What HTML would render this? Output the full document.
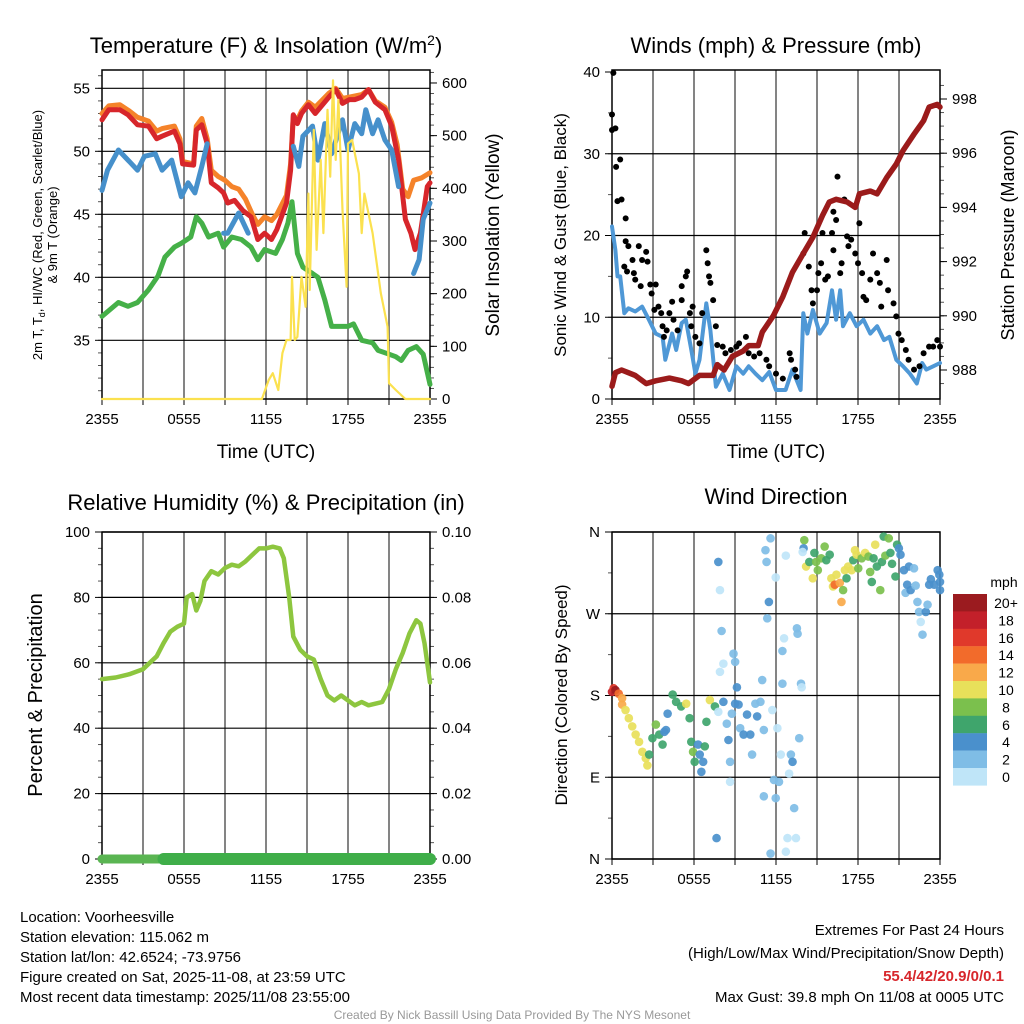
<!DOCTYPE html>
<html><head><meta charset="utf-8">
<style>
html,body{margin:0;padding:0;background:#fff}
svg{display:block;font-family:"Liberation Sans",Arial,sans-serif}
</style></head>
<body>
<svg id="c" width="1024" height="1024" viewBox="0 0 1024 1024" xmlns="http://www.w3.org/2000/svg">
<g id="bg"><rect width="1024" height="1024" fill="#fff"/></g>
<text x="266" y="53" text-anchor="middle" font-size="22">Temperature (F) &amp; Insolation (W/m<tspan dy="-8" font-size="14">2</tspan><tspan dy="8">)</tspan></text>
<text x="776" y="53" text-anchor="middle" font-size="22">Winds (mph) &amp; Pressure (mb)</text>
<text x="266" y="510" text-anchor="middle" font-size="22">Relative Humidity (%) &amp; Precipitation (in)</text>
<text x="776" y="504" text-anchor="middle" font-size="22">Wind Direction</text>

<text x="266" y="458" text-anchor="middle" font-size="19">Time (UTC)</text>
<text x="776" y="458" text-anchor="middle" font-size="19">Time (UTC)</text>
<text transform="translate(42,235) rotate(-90)" text-anchor="middle" font-size="13">2m T, T<tspan dy="3" font-size="9">d</tspan><tspan dy="-3">, HI/WC (Red, Green, Scarlet/Blue)</tspan></text>
<text transform="translate(57,235) rotate(-90)" text-anchor="middle" font-size="13">&amp; 9m T (Orange)</text>
<text transform="translate(499,235) rotate(-90)" text-anchor="middle" font-size="19">Solar Insolation (Yellow)</text>
<text transform="translate(566,235) rotate(-90)" text-anchor="middle" font-size="17">Sonic Wind &amp; Gust (Blue, Black)</text>
<text transform="translate(1014,235) rotate(-90)" text-anchor="middle" font-size="18">Station Pressure (Maroon)</text>
<text transform="translate(42,695) rotate(-90)" text-anchor="middle" font-size="20">Percent &amp; Precipitation</text>
<text transform="translate(567,695) rotate(-90)" text-anchor="middle" font-size="17">Direction (Colored By Speed)</text>

<g font-size="15">
<text x="20" y="922">Location: Voorheesville</text>
<text x="20" y="942">Station elevation: 115.062 m</text>
<text x="20" y="962">Station lat/lon: 42.6524; -73.9756</text>
<text x="20" y="982">Figure created on Sat, 2025-11-08, at 23:59 UTC</text>
<text x="20" y="1002">Most recent data timestamp: 2025/11/08 23:55:00</text>
</g>
<g font-size="15" text-anchor="end">
<text x="1004" y="935">Extremes For Past 24 Hours</text>
<text x="1004" y="958">(High/Low/Max Wind/Precipitation/Snow Depth)</text>
<text x="1004" y="981" fill="#d7262b" font-weight="bold">55.4/42/20.9/0/0.1</text>
<text x="1004" y="1002">Max Gust: 39.8 mph On 11/08 at 0005 UTC</text>
</g>
<text x="512" y="1019" text-anchor="middle" font-size="12" fill="#999">Created By Nick Bassill Using Data Provided By The NYS Mesonet</text>
</svg>
<script>
// ---- data (time in hours after 2355 UTC) ----
const xTickLabels=["2355","0555","1155","1755","2355"];
const tempTicks=[35,40,45,50,55];
const solarTicks=[0,100,200,300,400,500,600];
const windTicks=[0,10,20,30,40];
const presTicks=[988,990,992,994,996,998];
const rhTicks=[0,20,40,60,80,100];
const precipTicks=["0.00","0.02","0.04","0.06","0.08","0.10"];
const dirTicks=["N","E","S","W","N"];

const redT=[0,0.5,1.3,1.9,2.6,3.4,4,4.4,5.3,5.7,5.9,6.7,6.9,7.3,7.7,8,8.5,8.9,9.2,9.7,10.3,10.9,11.4,11.9,12.4,12.8,13.5,13.8,14,14.3,14.6,15.1,15.6,16.6,17.1,17.6,18.1,18.5,19,19.5,20,20.7,21.2,21.7,22.2,22.6,22.9,23.3,23.8,24];
const redV=[52.5,53.3,53.3,52.9,52.1,52,51,51.2,51.6,50.6,49,48.9,51.7,52.1,50.6,47.5,47.1,46.7,45.9,46.1,45.3,44.8,43,43.5,43,43.8,45.9,48.5,52.9,52.2,53,53.7,53,54.3,54.9,53.8,54.1,54.1,54.3,54.9,53.9,53.3,52,49.3,44.6,43.5,42.2,43.5,47.2,47.5];
const orangeT=[0,0.5,1.3,2,2.6,3.4,4,4.4,5.3,5.7,5.9,6.7,6.9,7.3,7.7,8,8.5,9,9.5,10,10.5,11,11.4,11.9,12.4,12.8,13.5,13.8,14,14.3,14.6,15.1,15.6,16.6,17.1,17.6,18.1,19,19.5,20,20.7,21.2,21.6,22,22.4,22.8,23.4,24];
const orangeV=[53,53.6,53.7,53.2,52.7,52.4,51.6,51.8,52,51,49.2,49,52,52.6,51,48.5,48,47.7,47.2,47,46.2,45,44.2,44.8,44.5,45,46.5,49,52.8,52.5,53.2,53.9,53.5,54.6,55,54.2,54.3,54.5,54.9,54,53.5,52.3,50.5,47,46.4,47.7,47.9,48.3];
const blueT=[0,0.4,1.2,1.9,2.6,3.1,3.9,4.4,5.1,5.8,6.3,6.8,7.3,7.7,7.9,8.2,8.4,8.9,9.2,10,10.7,11,14,14.4,14.7,15.4,15.8,16.3,16.8,17.6,18,18.5,19,19.3,19.8,20.2,20.7,21.2,21.7,22,22.8,23.2,23.5,24];
const blueV=[46.9,48.5,50.1,49.3,48.5,49.6,49.8,48.5,49.3,46.4,47.5,46.7,48.8,50.6,null,45.9,null,43.5,43.5,45.1,43.5,null,50.4,48.8,51.2,52,49.3,52.2,49.8,52.5,50.1,52.2,51.4,53.3,51.4,52.5,50.9,50.1,47.2,null,40.3,41.4,44.6,45.9];
const greenT=[0,1.2,1.9,2.6,3.4,4.1,4.6,5.3,5.8,6.5,6.9,7.3,7.8,8.5,8.9,9.5,10.2,10.9,11.4,11.9,12.7,13.2,13.6,13.9,14.3,14.7,15.4,15.8,16.3,16.8,17.3,18,18.4,19,19.8,20.2,21,21.5,21.9,22.4,23,23.5,24];
const greenV=[36.9,38,37.7,38,39,40.1,41.6,42.4,42.7,43.2,44.8,44.3,43.2,43.5,42.4,43.2,43,42.4,41.4,42.2,41.9,43,44.3,46,41.9,40.8,40.3,40,38.2,36.1,36.1,36.1,36.3,35,34.8,34.2,33.9,33.7,33.4,34.2,34.5,33.9,31.5];
const solarT=[0,11.7,12.2,12.5,12.9,13.2,13.5,13.8,13.9,14.1,14.3,14.6,14.9,15.1,15.2,15.5,15.7,16,16.2,16.5,16.7,16.9,17.1,17.3,17.6,17.9,18,18.3,18.8,19,19.2,19.8,20.4,20.9,21,21.5,22.2,24];
const solarV=[0,0,36,49,17,87,112,112,232,112,118,232,175,390,207,511,283,454,315,549,422,605,454,568,359,213,485,492,428,315,390,315,201,137,30,17,0,0];

const presT=[0,0.25,0.7,1.2,1.7,2.5,3.2,4.2,5.1,5.6,6.4,7.4,7.7,8.2,8.8,9.6,10,10.7,11,11.8,12.5,13.2,14,14.7,15.4,15.9,16.4,17.2,17.8,18.1,18.9,19.4,20.1,20.8,21.3,22.1,22.8,23.2,23.8,24];
const presV=[987.4,987.9,988,987.9,987.8,987.5,987.6,987.7,987.6,987.5,987.8,987.8,988.2,988,988.5,988.7,988.9,988.9,989.4,990,990.7,991.6,992.3,992.9,993.7,994.2,994.3,994.2,994,994.5,994.6,994.5,995.1,995.6,996.1,996.7,997.2,997.7,997.8,997.7];
const windT=[0,0.25,0.4,0.6,0.9,1.2,1.7,2.2,2.7,3.2,3.7,3.9,4.4,4.7,5.1,5.4,5.8,6.1,6.4,6.9,7.2,7.6,8.1,8.6,9.1,9.6,10,10.5,11,11.5,12,12.7,13.2,13.8,14,14.3,14.7,15.2,15.7,16.1,16.4,16.7,16.9,17.4,17.9,18.4,18.9,19.4,19.9,20.3,20.8,21.3,21.8,22.3,22.7,23,23.5,24];
const windV=[21.1,18.2,15,15,10.5,11.1,10.7,11.3,9.7,8,7.6,4.8,8,6,9.3,9.7,6,3.1,4.8,11.7,8.4,1.5,3.1,1.1,4,3.1,4,3.1,2.3,3.3,1.1,1.1,3.6,1.1,10.5,8,10.9,8,9.3,13.3,9.7,13.3,8.9,10.5,8.9,9.7,8,8.9,7.2,7.6,4.8,4,3.1,1.9,4.4,3.6,4,4.4];
const gustT=[0.1,0,0,0.25,0.3,0.6,0.4,0.7,1,1,1.2,0.9,1.1,1.5,1.6,1.7,1.96,2.2,2.5,2.6,2.1,2.8,3.2,2.9,3.1,3.4,3.6,3.7,3.8,4,4.2,4.4,4.5,4.8,5.1,5.1,5.4,5.5,5.7,5.9,5.8,6.1,6.4,6.6,6.9,7,7.1,7.2,7.4,7.6,7.7,8.1,8.3,8.7,9.1,9.3,9.8,10,10.4,10.8,11.3,11.5,12,12.5,13,13.1,13.4,13.5,14,14.1,14.4,14.6,14.7,15,15.1,15.3,15.4,15.6,15.8,16.1,16.2,16.2,16.4,16.5,16.7,16.8,17,17.2,17.3,17.5,17.8,18,18.1,18.3,18.4,18.6,18.9,19.1,19.4,19.6,19.7,20.1,20.2,20.6,20.8,20.96,21.2,21.5,21.7,22.1,22.5,22.8,23.2,23.5,23.8,24];
const gustV=[39.9,34.8,32.9,33.1,28.4,29.3,24.2,24.4,22.1,19.3,18.7,16.2,15.6,17,15.4,14.6,18.7,17,18,16.8,13.8,14,14,12.9,10.9,11.3,10.5,8.9,7.6,8.4,10.5,11.9,9.7,8.4,12.1,13.8,15,15.6,10.5,11.3,8.9,7.6,6.8,10.5,18.2,16.6,15,14.2,12.1,8.9,6.6,6.4,5.6,6,6.4,6.8,7.6,5.6,5.2,5.6,4.8,4,3.1,2.5,5.6,4.8,3.6,2.7,17.8,20.3,16.2,13.3,11.7,13.3,15.4,16.6,20.3,14.6,15,20.3,22.9,18.2,21.9,27.2,15.4,16.6,24.4,19.9,18.7,19.5,17.8,16.6,21.5,15.4,12.5,12.1,14.6,17.8,15.4,14.2,11.3,17,13.3,11.7,10.1,8,7.2,6,4.8,3.6,4,5.6,6.4,6.4,7.2,6.4];

const rhT=[0,1,2,3,3.5,4,4.5,5,5.5,6,6.2,6.6,6.9,7.2,7.5,8,8.5,9,9.5,10,10.5,11,11.5,12,12.5,13,13.3,13.7,14,14.5,15,15.5,16,16.5,17,17.5,18,18.5,19,19.5,20,20.5,21,21.5,22,22.5,23,23.3,23.6,24];
const rhV=[55,55.5,56.5,58,60,62,66,69.5,71,72,80,81,76,79,85,88,87,89,90,89.5,91,93,95,95,95.5,95,92,80,68,64,62,61,55,50,48.5,50,48.5,47,48,47,47.5,48,52,58,63,69,73,72,66,54];
const precipT=[0,4.5,24];
const precipV=[0,0,0];

const dirT=[0,0.12,0.25,0.49,0.74,0.74,0.99,1.23,1.48,1.73,1.98,2.22,2.47,2.59,2.72,2.96,3.21,3.46,3.7,3.83,3.95,4.07,4.44,4.69,5.06,5.43,5.68,5.8,5.93,6.05,6.3,6.42,6.67,6.54,6.79,6.91,7.16,7.53,7.78,8.15,8.4,8.52,8.64,8.77,9.01,9.26,9.38,9.63,9.88,10.12,10.25,10.49,10.62,10.86,11.11,11.73,11.85,12.1,12.22,12.35,13.09,13.21,12.96,13.33,13.7,7.65,11.11,11.98,11.6,12.72,12.84,13.46,8.64,7.78,7.9,8.02,8.89,9.01,8.15,7.9,9.14,10.99,12.47,13.83,13.88,12.59,12.47,13.53,13.58,11.36,11.48,11.31,11.23,11.6,11.98,12.72,14.07,14.02,13.95,14.2,14.44,14.69,14.81,14.94,15.06,15.31,15.56,15.68,15.93,16.05,16.17,16.3,16.42,16.67,16.79,16.91,17.04,17.16,17.28,17.53,17.65,17.78,17.9,18.02,18.27,18.52,18.77,18.89,19.01,19.14,19.26,19.38,19.63,19.75,19.88,20,20.25,20.37,20.49,20.74,20.86,20.99,21.11,21.36,21.48,21.6,21.73,21.85,22.1,22.22,22.35,22.47,22.59,22.72,22.96,23.09,23.21,23.33,23.58,23.83,23.95,24,24];
const dirDeg=[184,188,186,182,177,170,164,155,146,137,129,118,111,103,115,133,148,137,126,140,142,160,181,173,168,171,155,129,118,107,126,115,107,96,124,151,175,168,162,173,149,131,107,160,171,170,144,137,159,137,115,171,157,173,142,164,87,144,85,115,115,107,94,56,133,23,69,67,6,8,23,23,85,327,296,251,226,217,215,206,189,197,193,193,189,243,229,254,248,265,283,327,340,353,310,334,351,342,338,322,327,309,337,327,318,331,344,329,335,309,300,302,313,304,283,296,318,309,322,318,329,340,335,320,331,337,333,316,305,331,346,322,296,327,355,334,353,337,325,311,346,342,335,318,293,302,322,296,320,301,283,272,261,247,272,280,302,308,302,318,313,305,296];
const dirSpd=[19,17,20,14,13,12,10,10,10,10,10,10,10,10,7,7,8,6,6,4,4,4,6,6,6,10,6,6,8,6,4,4,4,4,7,6,10,6,1,4,2,4,2,2,4,4,2,4,4,4,2,2,4,2,2,1,2,1,2,1,2,4,1,2,2,4,2,2,2,1,1,1,1,4,1,2,2,2,1,1,4,2,2,2,1,1,2,2,2,2,4,2,2,2,1,1,8,4,1,10,6,10,6,8,8,8,8,6,6,10,10,14,10,12,12,8,10,6,10,10,6,10,10,8,8,10,8,8,7,6,10,6,8,6,6,8,8,6,6,6,6,4,4,4,2,4,4,4,2,2,2,2,1,2,4,2,4,4,4,4,4,4,4,4];
const cbLabels=["20+","18","16","14","12","10","8","6","4","2","0"];
const cbColors=["#9b1b1f","#c3202a","#e0392b","#f26b2b","#f9a94a","#e8e05a","#7bc04d","#3fa56c","#4a90cc","#7fbde6","#bfe5f8"];

// ---- drawing ----
const NS="http://www.w3.org/2000/svg";
const svg=document.getElementById('c');
function mk(tag,attrs,parent){const e=document.createElementNS(NS,tag);for(const k in attrs)e.setAttribute(k,attrs[k]);(parent||svg).appendChild(e);return e;}
const L={x0:102,x1:430}, R={x0:612,x1:940}, TOP={y0:70,y1:399}, BOT={y0:532,y1:859};
function xs(p,t){return p.x0+(t/24)*(p.x1-p.x0);}
const yTemp=v=>88.3+(55-v)*12.6, ySolar=v=>399-v*0.5267;
const yWind=v=>399-v*8.175, yPres=v=>370-(v-988)*27.1;
const yRH=v=>859-v*3.27, yDir=d=>859-d/360*327;
const yPrecip=v=>859-v*3270;

function frame(p,v,name){
  const g=mk('g',{});
  
  
  for(let i=1;i<8;i++){const x=p.x0+i*(p.x1-p.x0)/8;
    const ln=mk('line',{x1:x,x2:x,y1:v.y0,y2:v.y1,stroke:'#666','stroke-width':1.6},g);
    
    }
  for(let i=0;i<=8;i++){const x=p.x0+i*(p.x1-p.x0)/8;mk('line',{x1:x,x2:x,y1:v.y1,y2:v.y1+6,stroke:'#000'},g);}
  xTickLabels.forEach((lab,i)=>{const x=p.x0+i*(p.x1-p.x0)/4;
    const t=mk('text',{x:x,y:v.y1+25,'text-anchor':'middle','font-size':15},g);t.textContent=lab;
    
    });
  return g;
}
function hgrid(p,vals,yf,g){vals.forEach(v=>{const y=yf(v);mk('line',{x1:p.x0,x2:p.x1,y1:y,y2:y,stroke:'#000','stroke-width':1.2},g);});}
function ticksL(p,vals,yf,g,labels,minor){
  if(minor)minor.forEach(v=>{const y=yf(v);mk('line',{x1:p.x0-4,x2:p.x0,y1:y,y2:y,stroke:'#555'},g);});
  vals.forEach((v,i)=>{const y=yf(v);mk('line',{x1:p.x0-7,x2:p.x0,y1:y,y2:y,stroke:'#000'},g);
    const t=mk('text',{x:p.x0-12,y:y+5,'text-anchor':'end','font-size':15},g);t.textContent=labels?labels[i]:v;
    
    });
}
function ticksR(p,vals,yf,g,labels,minor){
  if(minor)minor.forEach(v=>{const y=yf(v);mk('line',{x1:p.x1,x2:p.x1+4,y1:y,y2:y,stroke:'#555'},g);});
  vals.forEach((v,i)=>{const y=yf(v);mk('line',{x1:p.x1,x2:p.x1+7,y1:y,y2:y,stroke:'#000'},g);
    const t=mk('text',{x:p.x1+12,y:y+5,'text-anchor':'start','font-size':15},g);t.textContent=labels?labels[i]:v;
    
    });
}
function line(p,T,V,yf,color,w,name){
  let d='',pen=false;
  T.forEach((t,i)=>{const v=V[i];if(v===null){pen=false;return;}
    d+=(pen?'L':'M')+xs(p,t).toFixed(1)+' '+yf(v).toFixed(1);pen=true;});
  const e=mk('path',{d:d,fill:'none',stroke:color,'stroke-width':w,'stroke-linejoin':'round','stroke-linecap':'round'});
  
  
  return e;
}
function border(p,v){mk('rect',{x:p.x0,y:v.y0,width:p.x1-p.x0,height:v.y1-v.y0,fill:'none',stroke:'#000','stroke-width':1.5});}
const range=(a,b,s)=>{const r=[];for(let v=a;v<=b+1e-9;v+=s)r.push(+v.toFixed(4));return r;};

// Panel 1
let g=frame(L,TOP,'temperature');
hgrid(L,tempTicks,yTemp,g);
ticksL(L,tempTicks,yTemp,g,null,range(31,56,1));
ticksR(L,solarTicks,ySolar,g,null,range(0,620,20));
border(L,TOP);
line(L,orangeT,orangeV,yTemp,'#f5832a',5,'temp-9m-line');
line(L,redT,redV,yTemp,'#d7262b',5,'temp-2m-line');
line(L,blueT,blueV,yTemp,'#4690cb',5,'wind-chill-line');
line(L,greenT,greenV,yTemp,'#45b048',5,'dewpoint-line');
line(L,solarT,solarV,ySolar,'#fbe14f',2.2,'solar-insolation-line');

// Panel 2
g=frame(R,TOP,'winds');
hgrid(R,windTicks.slice(0,4),yWind,g);
ticksL(R,windTicks,yWind,g,null,range(0,40,5));
ticksR(R,presTicks,yPres,g,null,range(987.5,998.5,0.5));
border(R,TOP);
line(R,windT,windV,yWind,'#4f98d6',4,'sonic-wind-line');
gustT.forEach((t,i)=>{const c=mk('circle',{cx:xs(R,t),cy:yWind(gustV[i]),r:3,fill:'#000'});
  
  });
line(R,presT,presV,yPres,'#9b1b1b',5.5,'pressure-line');

// Panel 3
g=frame(L,BOT,'humidity');
hgrid(L,rhTicks,yRH,g);
ticksL(L,rhTicks,yRH,g,null,range(0,100,5));
ticksR(L,rhTicks,yRH,g,precipTicks,range(0,100,5));
border(L,BOT);
line(L,rhT,rhV,yRH,'#8dc63f',4.5,'relative-humidity-line');
line(L,precipT.slice(0,2),precipV.slice(0,2),yPrecip,'#5ab552',9,'precip-line-early');
line(L,precipT.slice(1),precipV.slice(1),yPrecip,'#3fae49',12,'precip-line');

// Panel 4
g=frame(R,BOT,'direction');
const dirVals=[0,90,180,270,360];
hgrid(R,dirVals,yDir,g);
ticksL(R,dirVals,yDir,g,dirTicks,range(0,360,45));
border(R,BOT);
dirT.forEach((t,i)=>{const s=dirSpd[i];const idx=Math.min(10,Math.floor(s/2));
  const c=mk('circle',{cx:xs(R,t),cy:yDir(dirDeg[i]),r:4.3,fill:cbColors[10-idx],opacity:0.92});
  
  });

// Colorbar
const cb=mk('g',{});


const mt=mk('text',{x:1004,y:587,'text-anchor':'middle','font-size':14},cb);mt.textContent='mph';
cbLabels.forEach((lab,i)=>{const y=594+i*17.4;
  mk('rect',{x:953,y:y,width:34,height:17.6,fill:cbColors[i]},cb);
  const t=mk('text',{x:1006,y:y+14,'text-anchor':'middle','font-size':14},cb);t.textContent=lab;
  
  });
</script>
</body></html>
